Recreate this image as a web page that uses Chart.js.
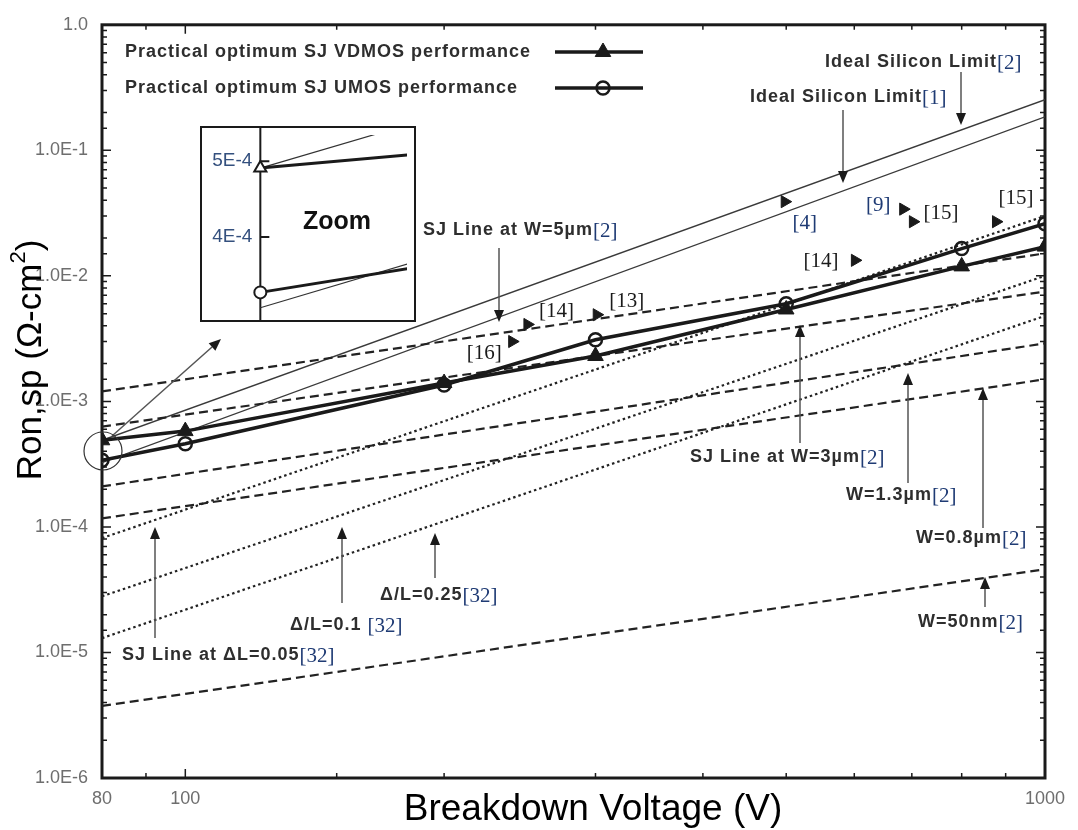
<!DOCTYPE html>
<html>
<head>
<meta charset="utf-8">
<script src="https://cdn.jsdelivr.net/npm/chart.js@4.4.1/dist/chart.umd.min.js"></script>
<style>
  html, body { margin: 0; padding: 0; background: #fff; }
  #wrap { position: relative; width: 1078px; height: 830px; }
  #inset { position: absolute; left: 200px; top: 126px; }
</style>
</head>
<body>
<div id="wrap">
  <canvas id="main" width="1078" height="830"></canvas>
  <canvas id="inset" width="216" height="196"></canvas>
</div>
<script>
// optimised SJ devices (breakdown voltage, Ron,sp)
const voltages = [80, 100, 200, 300, 500, 800, 1000];
const vdmos = [4.9e-4, 5.8e-4, 1.4e-3, 2.3e-3, 5.4e-3, 1.19e-2, 1.71e-2];
const umos = [3.4e-4, 4.6e-4, 1.35e-3, 3.1e-3, 6.0e-3, 1.65e-2, 2.6e-2];

const lineV = [80, 1000];
const silicon1 = [3.25e-4, 0.185];
const silicon2 = [4.9e-4, 0.253];
const w5um = [1.2e-3, 1.51e-2];
const w3um = [6.3e-4, 7.5e-3];
const w13um = [2.1e-4, 2.9e-3];
const w08um = [1.17e-4, 1.5e-3];
const w50nm = [3.75e-6, 4.6e-5];
const dl005 = [8.15e-5, 3.0e-2];
const dl01 = [2.8e-5, 1.0e-2];
const dl025 = [1.3e-5, 4.8e-3];

// published devices
const refNames = ['[16]', '[14]', '[13]', '[4]', '[14]', '[9]', '[15]', '[15]'];
const refV = [240, 250, 301, 498, 601, 684, 702, 877];
const refR = [3.0e-3, 4.1e-3, 4.9e-3, 3.9e-2, 1.33e-2, 3.4e-2, 2.7e-2, 2.7e-2];

const xTickLabels = [80, 100, 1000];
const yTickLabels = ['1.0E-6', '1.0E-5', '1.0E-4', '1.0E-3', '1.0E-2', '1.0E-1', '1.0'];
const insetTicks = [4e-4, 5e-4];
const insetTickLabels = ['4E-4', '5E-4'];

const pts = (xs, ys) => xs.map((x, i) => ({ x: x, y: ys[i] }));

const INK = '#1a1a1a';
const CITE = '#1f3b74';
const SANS = '"Liberation Sans", Arial, sans-serif';
const SERIF = '"Liberation Serif", "Times New Roman", serif';

// label placement (pixels)
const refLabelOffsets = [[-28, 12], [29, -13], [30, -13], [20, 22], [-34, 1], [-25, -4], [28, -8], [20, -23]];
const refLabelColors = [INK, INK, INK, CITE, INK, CITE, INK, INK];
const notes = [
  { text: 'Ideal Silicon Limit', cite: '[2]', x: 825, y: 62 },
  { text: 'Ideal Silicon Limit', cite: '[1]', x: 750, y: 97 },
  { text: 'SJ Line at W=5µm', cite: '[2]', x: 423, y: 230 },
  { text: 'SJ Line at W=3µm', cite: '[2]', x: 690, y: 457 },
  { text: 'W=1.3µm', cite: '[2]', x: 846, y: 495 },
  { text: 'W=0.8µm', cite: '[2]', x: 916, y: 538 },
  { text: 'W=50nm', cite: '[2]', x: 918, y: 622 },
  { text: 'Δ/L=0.25', cite: '[32]', x: 380, y: 595 },
  { text: 'Δ/L=0.1 ', cite: '[32]', x: 290, y: 625 },
  { text: 'SJ Line at ΔL=0.05', cite: '[32]', x: 122, y: 655 }
];
const arrows = [
  [961, 72, 961, 125], [843, 110, 843, 183], [499, 248, 499, 322],
  [800, 443, 800, 325], [908, 483, 908, 373], [983, 528, 983, 388],
  [985, 607, 985, 577], [435, 578, 435, 533], [342, 603, 342, 527],
  [155, 638, 155, 527], [112, 436, 221, 339]
];

function drawArrow(ctx, x1, y1, x2, y2) {
  const a = Math.atan2(y2 - y1, x2 - x1);
  const bx = x2 - 12 * Math.cos(a), by = y2 - 12 * Math.sin(a);
  ctx.beginPath();
  ctx.moveTo(x1, y1);
  ctx.lineTo(bx, by);
  ctx.stroke();
  ctx.beginPath();
  ctx.moveTo(x2, y2);
  ctx.lineTo(bx + 5 * Math.sin(a), by - 5 * Math.cos(a));
  ctx.lineTo(bx - 5 * Math.sin(a), by + 5 * Math.cos(a));
  ctx.closePath();
  ctx.fill();
}

const isDecade = v => Math.abs(Math.log10(v) - Math.round(Math.log10(v))) < 1e-6;

function dashed(label, ys) {
  return { label: label, data: pts(lineV, ys), borderColor: '#222', borderWidth: 2.2,
    borderDash: [9, 5], pointRadius: 0, order: 5 };
}
function dotted(label, ys) {
  return { label: label, data: pts(lineV, ys), borderColor: '#222', borderWidth: 2.2,
    borderDash: [2.5, 3], pointRadius: 0, order: 5 };
}
function limit(label, ys) {
  return { label: label, data: pts(lineV, ys), borderColor: '#3a3a3a', borderWidth: 1.3,
    pointRadius: 0, order: 6 };
}

const vdmosSet = { label: 'Practical optimum SJ VDMOS performance', data: pts(voltages, vdmos),
  borderColor: INK, borderWidth: 3.5, pointStyle: 'triangle', pointRadius: 9,
  pointBackgroundColor: INK, pointBorderColor: INK, pointBorderWidth: 1, order: 1 };
const umosSet = { label: 'Practical optimum SJ UMOS performance', data: pts(voltages, umos),
  borderColor: INK, borderWidth: 3.5, pointStyle: 'circle', pointRadius: 6.5,
  pointBackgroundColor: 'rgba(0,0,0,0)', pointBorderColor: INK, pointBorderWidth: 2.5, order: 2 };

const frameAndTicks = {
  id: 'frameAndTicks',
  beforeDatasetsDraw(chart) {
    const { ctx, chartArea: a, scales: { x, y } } = chart;
    ctx.save();
    ctx.strokeStyle = INK;
    ctx.lineWidth = 1.5;
    ctx.beginPath();
    y.ticks.forEach(t => {
      const py = y.getPixelForValue(t.value);
      const len = isDecade(t.value) ? 9 : 5;
      ctx.moveTo(a.left, py); ctx.lineTo(a.left + len, py);
      ctx.moveTo(a.right, py); ctx.lineTo(a.right - len, py);
    });
    x.ticks.forEach(t => {
      const px = x.getPixelForValue(t.value);
      const len = xTickLabels.includes(Math.round(t.value)) ? 9 : 5;
      ctx.moveTo(px, a.bottom); ctx.lineTo(px, a.bottom - len);
      ctx.moveTo(px, a.top); ctx.lineTo(px, a.top + len);
    });
    ctx.stroke();
    ctx.lineWidth = 3;
    ctx.strokeRect(a.left, a.top, a.right - a.left, a.bottom - a.top);
    ctx.restore();
  }
};

const annotations = {
  id: 'annotations',
  afterDatasetsDraw(chart) {
    const { ctx, scales: { x, y } } = chart;
    ctx.save();
    ctx.strokeStyle = '#555';
    ctx.fillStyle = INK;
    ctx.lineWidth = 1.5;
    arrows.forEach(r => drawArrow(ctx, r[0], r[1], r[2], r[3]));

    // ring round the 80 V points
    ctx.strokeStyle = '#333';
    ctx.lineWidth = 1.2;
    ctx.beginPath();
    ctx.arc(103, 451, 19, 0, Math.PI * 2);
    ctx.stroke();

    ctx.textBaseline = 'middle';
    notes.forEach(n => {
      ctx.font = 'bold 18px ' + SANS;
      ctx.letterSpacing = '1px';
      ctx.fillStyle = '#2e2e2e';
      ctx.textAlign = 'left';
      ctx.fillText(n.text, n.x, n.y);
      const w = ctx.measureText(n.text).width;
      ctx.letterSpacing = '0px';
      ctx.font = '21px ' + SERIF;
      ctx.fillStyle = CITE;
      ctx.fillText(n.cite, n.x + w, n.y + 1);
    });

    ctx.font = '21px ' + SERIF;
    ctx.textAlign = 'center';
    refNames.forEach((name, i) => {
      const px = x.getPixelForValue(refV[i]);
      const py = y.getPixelForValue(refR[i]);
      ctx.fillStyle = refLabelColors[i];
      ctx.fillText(name, px + refLabelOffsets[i][0], py + refLabelOffsets[i][1]);
    });

    // legend, top left inside the frame
    [vdmosSet, umosSet].forEach((ds, i) => {
      const ly = 52 + i * 36;
      ctx.font = 'bold 18px ' + SANS;
      ctx.letterSpacing = '1px';
      ctx.fillStyle = '#2e2e2e';
      ctx.textAlign = 'left';
      ctx.fillText(ds.label, 125, ly);
      ctx.letterSpacing = '0px';
      ctx.strokeStyle = INK;
      ctx.lineWidth = ds.borderWidth;
      ctx.beginPath();
      ctx.moveTo(555, ly);
      ctx.lineTo(643, ly);
      ctx.stroke();
      ctx.fillStyle = ds.pointBackgroundColor;
      ctx.lineWidth = ds.pointBorderWidth;
      Chart.helpers.drawPoint(ctx, { pointStyle: ds.pointStyle, radius: ds.pointRadius,
        rotation: 0, borderWidth: ds.pointBorderWidth }, 603, ly);
    });

    // axis titles
    ctx.fillStyle = '#000';
    ctx.font = '37px ' + SANS;
    ctx.textAlign = 'center';
    ctx.fillText('Breakdown Voltage (V)', 593, 810);

    ctx.translate(31, 360);
    ctx.rotate(-Math.PI / 2);
    const main = 'Ron,sp (Ω-cm';
    ctx.font = '35px ' + SANS;
    const w1 = ctx.measureText(main).width;
    const w3 = ctx.measureText(')').width;
    ctx.font = '22px ' + SANS;
    const w2 = ctx.measureText('2').width;
    let sx = -(w1 + w2 + w3) / 2;
    ctx.textAlign = 'left';
    ctx.font = '35px ' + SANS;
    ctx.fillText(main, sx, 0);
    ctx.font = '22px ' + SANS;
    ctx.fillText('2', sx + w1, -12);
    ctx.font = '35px ' + SANS;
    ctx.fillText(')', sx + w1 + w2, 0);
    ctx.restore();
  }
};

new Chart(document.getElementById('main'), {
  type: 'line',
  data: {
    datasets: [
      vdmosSet,
      umosSet,
      { label: 'refs', data: pts(refV, refR), showLine: false, pointStyle: 'triangle',
        rotation: 90, pointRadius: 7, pointBackgroundColor: INK, pointBorderColor: INK,
        pointBorderWidth: 1, order: 0 },
      limit('Ideal Silicon Limit[1]', silicon1),
      limit('Ideal Silicon Limit[2]', silicon2),
      dashed('W=5um', w5um),
      dashed('W=3um', w3um),
      dashed('W=1.3um', w13um),
      dashed('W=0.8um', w08um),
      dashed('W=50nm', w50nm),
      dotted('dL=0.05', dl005),
      dotted('dL=0.1', dl01),
      dotted('dL=0.25', dl025)
    ]
  },
  options: {
    responsive: false,
    animation: false,
    devicePixelRatio: 1,
    layout: { padding: { top: 23, right: 33, left: 0, bottom: 0 } },
    plugins: { legend: { display: false }, tooltip: { enabled: false } },
    scales: {
      x: {
        type: 'logarithmic', min: 80, max: 1000,
        grid: { display: false, drawTicks: false },
        border: { display: false },
        ticks: {
          autoSkip: false, maxRotation: 0, padding: 10, color: '#6e6e6e',
          font: { size: 18, family: SANS },
          callback: v => xTickLabels.includes(Math.round(v)) ? String(Math.round(v)) : ''
        },
        afterFit: s => { s.height = 52; }
      },
      y: {
        type: 'logarithmic', min: 1e-6, max: 1,
        grid: { display: false, drawTicks: false },
        border: { display: false },
        ticks: {
          autoSkip: false, padding: 14, color: '#6e6e6e',
          font: { size: 18, family: SANS },
          callback: v => isDecade(v) ? yTickLabels[Math.round(Math.log10(v)) + 6] : ''
        },
        afterFit: s => { s.width = 102; }
      }
    }
  },
  plugins: [frameAndTicks, annotations]
});

// magnified view of the 80 V end
const insetFrame = {
  id: 'insetFrame',
  beforeDraw(chart) {
    const { ctx, width, height } = chart;
    ctx.save();
    ctx.fillStyle = '#fff';
    ctx.fillRect(0, 0, width, height);
    ctx.restore();
  },
  beforeDatasetsDraw(chart) {
    const { ctx, width, height, scales: { x, y } } = chart;
    const ax = x.getPixelForValue(80);
    ctx.save();
    ctx.strokeStyle = INK;
    ctx.lineWidth = 2;
    ctx.beginPath();
    ctx.moveTo(ax, 0);
    ctx.lineTo(ax, height);
    insetTicks.forEach(v => {
      const py = y.getPixelForValue(v);
      ctx.moveTo(ax, py);
      ctx.lineTo(ax + 9, py);
    });
    ctx.stroke();
    ctx.font = '19px ' + SANS;
    ctx.fillStyle = '#34507e';
    ctx.textAlign = 'right';
    ctx.textBaseline = 'middle';
    insetTicks.forEach((v, i) => ctx.fillText(insetTickLabels[i], ax - 8, y.getPixelForValue(v)));
    ctx.font = 'bold 25px ' + SANS;
    ctx.fillStyle = '#111';
    ctx.textAlign = 'center';
    ctx.fillText('Zoom', 137, 96);
    ctx.restore();
  },
  afterDraw(chart) {
    const { ctx, width, height } = chart;
    ctx.save();
    ctx.strokeStyle = INK;
    ctx.lineWidth = 2;
    ctx.strokeRect(1, 1, width - 2, height - 2);
    ctx.restore();
  }
};

new Chart(document.getElementById('inset'), {
  type: 'line',
  data: {
    datasets: [
      { data: pts(voltages, vdmos), borderColor: INK, borderWidth: 3, pointStyle: 'triangle',
        pointRadius: 7, pointBackgroundColor: '#fff', pointBorderColor: INK, pointBorderWidth: 2 },
      { data: pts(voltages, umos), borderColor: INK, borderWidth: 3, pointStyle: 'circle',
        pointRadius: 6, pointBackgroundColor: '#fff', pointBorderColor: INK, pointBorderWidth: 2 },
      { data: pts(lineV, silicon1), borderColor: '#333', borderWidth: 1.2, pointRadius: 0 },
      { data: pts(lineV, silicon2), borderColor: '#333', borderWidth: 1.2, pointRadius: 0 }
    ]
  },
  options: {
    responsive: false,
    animation: false,
    devicePixelRatio: 1,
    layout: { padding: 0 },
    plugins: { legend: { display: false }, tooltip: { enabled: false } },
    scales: {
      x: { type: 'logarithmic', min: 78.58, max: 84.2, display: false },
      y: { type: 'logarithmic', min: 3.209e-4, max: 5.40e-4, display: false }
    }
  },
  plugins: [insetFrame]
});
</script>
</body>
</html>
